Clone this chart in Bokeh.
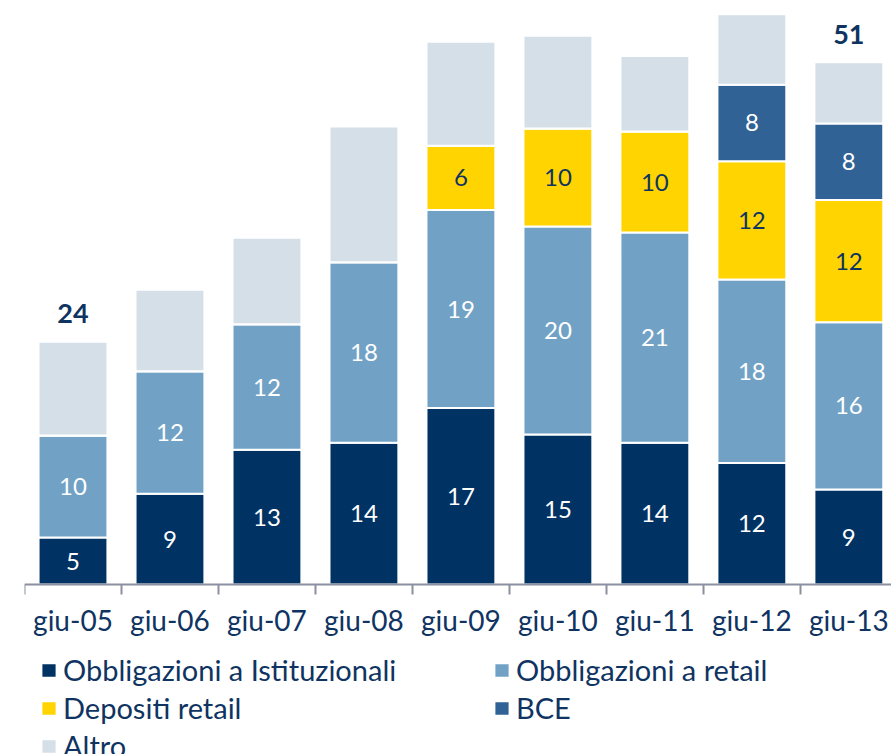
from bokeh.plotting import figure
from bokeh.models import ColumnDataSource, Range1d, FixedTicker, Legend, LegendItem
from bokeh.core.properties import value
from bokeh.embed import file_html
from bokeh.resources import INLINE

categories = ["giu-05", "giu-06", "giu-07", "giu-08", "giu-09", "giu-10", "giu-11", "giu-12", "giu-13"]
istituzionali = [4.6, 8.9, 13.2, 13.9, 17.3, 14.7, 13.9, 11.9, 9.3]
retail_bond = [10.0, 12.0, 12.3, 17.7, 19.4, 20.4, 20.6, 18.0, 16.4]
depositi = [0, 0, 0, 0, 6.3, 9.6, 9.9, 11.6, 12.0]
bce = [0, 0, 0, 0, 0, 0, 0, 7.5, 7.5]
altro = [9.2, 8.0, 8.5, 13.3, 10.2, 9.1, 7.4, 6.9, 6.0]
series_names = ["Obbligazioni a Istituzionali", "Obbligazioni a retail", "Depositi retail", "BCE", "Altro"]
total_label_idx = [0, 8]

colors = ["#003263", "#71a2c6", "#ffd400", "#316295", "#d5dfe8"]
label_colors = ["white", "white", "#0f3462", "white", None]
navy = "#0f3462"
axis_grey = "#8c8fa0"
FONT = "Lato"

keys = ["ist", "ret", "dep", "bce", "alt"]
series = [istituzionali, retail_bond, depositi, bce, altro]
xs = list(range(len(categories)))
data = {"x": xs}
for k, s in zip(keys, series):
    data[k] = s
source = ColumnDataSource(data)

p = figure(width=891, height=754, x_range=Range1d(-0.5, 8.44), y_range=Range1d(-16.67, 57.25),
           output_backend="svg", toolbar_location=None, y_axis_location=None,
           min_border_left=24, min_border_right=0, min_border_top=0, min_border_bottom=0)
p.outline_line_color = None
p.grid.visible = False
p.background_fill_color = "white"
p.border_fill_color = "white"

renderers = p.vbar_stack(keys, x="x", width=0.71, color=colors, source=source,
                         line_color="white", line_width=2)

# inner labels
lx, ly, lt, lc = [], [], [], []
for i in xs:
    base = 0.0
    for s, c in zip(series, label_colors):
        v = s[i]
        if v > 0 and c is not None:
            lx.append(i)
            ly.append(base + v / 2)
            lt.append(f"{v:.0f}")
            lc.append(c)
        base += v
lsrc = ColumnDataSource(dict(x=lx, y=ly, t=lt, c=lc))
p.text(x="x", y="y", text="t", text_color="c", source=lsrc, text_align="center",
       text_baseline="middle", text_font=value(FONT), text_font_size="24px")

# totals
tx, ty, tt = [], [], []
for i in total_label_idx:
    tot = sum(s[i] for s in series)
    tx.append(i)
    ty.append(tot)
    tt.append(f"{tot:.0f}")
tsrc = ColumnDataSource(dict(x=tx, y=ty, t=tt))
p.text(x="x", y="y", text="t", source=tsrc, text_align="center", text_baseline="alphabetic",
       y_offset=-28, text_color=navy, text_font=value(FONT), text_font_size="27px",
       text_font_style="bold")

ax = p.xaxis[0]
ax.fixed_location = 0
ax.ticker = FixedTicker(ticks=xs, minor_ticks=[i - 0.5 for i in range(len(categories) + 1)])
ax.major_label_overrides = {i: c for i, c in zip(xs, categories)}
ax.major_tick_out = 0
ax.major_tick_in = 0
ax.minor_tick_out = 10
ax.minor_tick_in = 0
ax.minor_tick_line_color = axis_grey
ax.minor_tick_line_width = 2
ax.axis_line_color = axis_grey
ax.axis_line_width = 2
ax.major_label_text_font = FONT
ax.major_label_text_font_size = "28px"
ax.major_label_text_color = navy
ax.major_label_standoff = 9

items = [LegendItem(label=n, renderers=[r]) for n, r in zip(series_names, renderers)]
legend = Legend(items=items, location=(15, -9), orientation="horizontal", ncols=2,
                padding=0, margin=0, spacing=3, border_line_color=None,
                background_fill_alpha=0, glyph_width=19, glyph_height=18,
                label_standoff=5, label_width=426, label_height=35,
                label_text_font=FONT, label_text_font_size="29px", label_text_color=navy)
p.add_layout(legend, "center")

open("out.html", "w").write(file_html(p, INLINE))
